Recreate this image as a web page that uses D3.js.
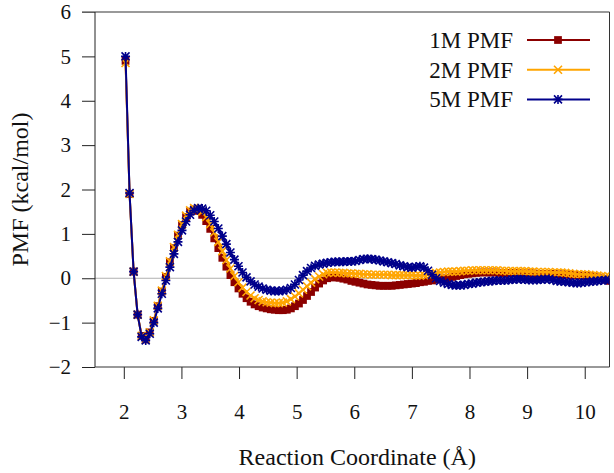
<!DOCTYPE html>
<html>
<head>
<meta charset="utf-8">
<script src="https://d3js.org/d3.v7.min.js"></script>
<style>
  body { margin: 0; background: #fff; }
  svg { display: block; }
  .axis path.domain { display: none; }
  .axis line { stroke: #222; }
</style>
</head>
<body>
<div id="chart"></div>
<script>
// reaction coordinate (Å), shared by the three runs
const coord = [
  2.03,2.10,2.17,2.24,2.31,2.38,2.45,2.52,2.59,2.66,
  2.73,2.80,2.87,2.94,3.01,3.08,3.15,3.22,3.29,3.36,
  3.43,3.50,3.57,3.64,3.71,3.78,3.85,3.92,3.99,4.06,
  4.13,4.20,4.27,4.34,4.41,4.48,4.55,4.62,4.69,4.76,
  4.83,4.90,4.97,5.04,5.11,5.18,5.25,5.32,5.39,5.46,
  5.53,5.60,5.67,5.74,5.81,5.88,5.95,6.02,6.09,6.16,
  6.23,6.30,6.37,6.44,6.51,6.58,6.65,6.72,6.79,6.86,
  6.93,7.00,7.07,7.14,7.21,7.28,7.35,7.42,7.49,7.56,
  7.63,7.70,7.77,7.84,7.91,7.98,8.05,8.12,8.19,8.26,
  8.33,8.40,8.47,8.54,8.61,8.68,8.75,8.82,8.89,8.96,
  9.03,9.10,9.17,9.24,9.31,9.38,9.45,9.52,9.59,9.66,
  9.73,9.80,9.87,9.94,10.01,10.08,10.15,10.22,10.29,10.36,
  10.43
];

// PMF (kcal/mol)
const pmf1M = [
  4.90,1.90,0.15,-0.82,-1.30,-1.38,-1.22,-0.96,-0.63,-0.30,
  0.03,0.36,0.68,0.96,1.20,1.38,1.50,1.55,1.52,1.43,
  1.29,1.11,0.90,0.68,0.46,0.26,0.07,-0.09,-0.23,-0.35,
  -0.45,-0.53,-0.59,-0.63,-0.66,-0.68,-0.70,-0.71,-0.72,-0.72,
  -0.71,-0.68,-0.63,-0.57,-0.49,-0.40,-0.31,-0.21,-0.12,-0.05,
  0.00,0.02,0.02,0.01,-0.01,-0.03,-0.06,-0.08,-0.10,-0.12,
  -0.14,-0.15,-0.16,-0.17,-0.17,-0.17,-0.17,-0.16,-0.15,-0.14,
  -0.13,-0.12,-0.11,-0.09,-0.08,-0.06,-0.05,-0.03,-0.02,0.00,
  0.01,0.03,0.05,0.07,0.09,0.10,0.11,0.12,0.13,0.13,
  0.13,0.13,0.13,0.12,0.12,0.12,0.12,0.12,0.11,0.11,
  0.11,0.11,0.10,0.10,0.10,0.10,0.10,0.09,0.09,0.09,
  0.08,0.07,0.07,0.06,0.06,0.05,0.04,0.02,0.00,-0.03,
  -0.06
];
const pmf2M = [
  4.85,1.90,0.15,-0.82,-1.30,-1.38,-1.22,-0.95,-0.62,-0.28,
  0.05,0.38,0.70,0.98,1.22,1.41,1.53,1.58,1.57,1.50,
  1.38,1.22,1.03,0.82,0.61,0.41,0.22,0.05,-0.09,-0.21,
  -0.31,-0.39,-0.45,-0.49,-0.52,-0.54,-0.55,-0.56,-0.56,-0.55,
  -0.52,-0.47,-0.41,-0.34,-0.26,-0.18,-0.10,-0.02,0.04,0.09,
  0.12,0.13,0.13,0.12,0.12,0.11,0.11,0.10,0.10,0.09,
  0.09,0.08,0.08,0.08,0.08,0.08,0.07,0.07,0.07,0.07,
  0.07,0.07,0.06,0.06,0.07,0.08,0.10,0.12,0.13,0.14,
  0.15,0.15,0.15,0.16,0.17,0.17,0.18,0.18,0.18,0.18,
  0.18,0.18,0.18,0.17,0.17,0.16,0.16,0.16,0.16,0.16,
  0.15,0.15,0.14,0.14,0.14,0.14,0.13,0.13,0.13,0.12,
  0.11,0.10,0.09,0.09,0.09,0.08,0.07,0.06,0.05,0.04,
  0.03
];
const pmf5M = [
  5.00,1.92,0.15,-0.82,-1.32,-1.40,-1.25,-1.00,-0.68,-0.35,
  -0.05,0.25,0.55,0.82,1.08,1.28,1.43,1.53,1.58,1.57,
  1.52,1.42,1.28,1.12,0.95,0.77,0.58,0.42,0.27,0.13,
  0.02,-0.07,-0.14,-0.19,-0.23,-0.26,-0.28,-0.29,-0.29,-0.28,
  -0.26,-0.22,-0.14,-0.04,0.07,0.16,0.23,0.28,0.31,0.33,
  0.35,0.36,0.37,0.37,0.37,0.38,0.38,0.39,0.41,0.43,
  0.44,0.43,0.42,0.40,0.38,0.36,0.34,0.32,0.29,0.27,
  0.25,0.24,0.26,0.27,0.24,0.17,0.08,0.00,-0.06,-0.10,
  -0.13,-0.15,-0.16,-0.16,-0.15,-0.13,-0.12,-0.10,-0.09,-0.08,
  -0.07,-0.06,-0.05,-0.05,-0.05,-0.04,-0.03,-0.02,-0.02,-0.03,
  -0.04,-0.04,-0.04,-0.03,-0.02,-0.02,-0.04,-0.06,-0.07,-0.08,
  -0.09,-0.10,-0.11,-0.10,-0.09,-0.08,-0.07,-0.06,-0.05,-0.04,
  -0.04
];

const seriesNames = ['1M PMF', '2M PMF', '5M PMF'];
const xTicks = [2, 3, 4, 5, 6, 7, 8, 9, 10];
const yTicks = [-2, -1, 0, 1, 2, 3, 4, 5, 6];

const FONT = '"Liberation Serif", "Times New Roman", Times, serif';
const W = 614, H = 473;
const pLeft = 95, pRight = 609.5, pTop = 12, pBottom = 367;

const svg = d3.select('#chart').append('svg')
  .attr('width', W).attr('height', H)
  .attr('font-family', FONT);

const x = d3.scaleLinear().domain([1.5, 10.43]).range([pLeft, pRight]);
const y = d3.scaleLinear().domain([-2, 6]).range([pBottom, pTop]);

// axes (outward ticks, gnuplot style)
const yAxisG = svg.append('g').attr('class', 'axis')
  .attr('transform', `translate(${pLeft},0)`)
  .call(d3.axisLeft(y).tickValues(yTicks).tickSize(13).tickPadding(11).tickFormat(d3.format('d')));

const xAxisG = svg.append('g').attr('class', 'axis')
  .attr('transform', `translate(0,${pBottom})`)
  .call(d3.axisBottom(x).tickValues(xTicks).tickSize(12).tickPadding(25).tickFormat(d3.format('d')));

[yAxisG, xAxisG].forEach(a => a
  .attr('font-family', FONT).attr('font-size', 21)
  .selectAll('text').attr('fill', '#111').attr('font-family', FONT));

// zero line
svg.append('line')
  .attr('x1', pLeft).attr('x2', pRight).attr('y1', y(0)).attr('y2', y(0))
  .attr('stroke', '#b0b0b0').attr('stroke-width', 1);

// border
svg.append('line').attr('x1', pLeft - 13).attr('x2', pRight).attr('y1', pTop).attr('y2', pTop)
  .attr('stroke', '#777').attr('stroke-width', 1.5);
svg.append('line').attr('x1', pLeft).attr('x2', pLeft).attr('y1', pTop).attr('y2', pBottom)
  .attr('stroke', '#222');
svg.append('line').attr('x1', pLeft).attr('x2', pRight).attr('y1', pBottom).attr('y2', pBottom)
  .attr('stroke', '#333');
svg.append('line').attr('x1', pRight).attr('x2', pRight).attr('y1', pTop).attr('y2', pBottom)
  .attr('stroke', '#333');

svg.append('defs').append('clipPath').attr('id', 'plot-clip')
  .append('rect').attr('x', pLeft).attr('y', pTop - 6).attr('width', pRight - pLeft).attr('height', pBottom - pTop + 6);

const marks = {
  square: d3.symbol(d3.symbolSquare, 60)(),
  cross: 'M-4,-4L4,4M-4,4L4,-4',
  star: 'M-4,-4L4,4M-4,4L4,-4M0,-4.5L0,4.5M-4.5,0L4.5,0'
};

const series = [
  { name: seriesNames[0], values: pmf1M, color: '#8b0000', mark: 'square' },
  { name: seriesNames[1], values: pmf2M, color: '#ffa500', mark: 'cross' },
  { name: seriesNames[2], values: pmf5M, color: '#00008b', mark: 'star' }
];

const line = d3.line().x(d => x(d[0])).y(d => y(d[1]));

const plot = svg.append('g').attr('clip-path', 'url(#plot-clip)');

function drawMark(sel, s) {
  sel.attr('d', marks[s.mark])
    .attr('fill', s.mark === 'square' ? s.color : 'none')
    .attr('stroke', s.color)
    .attr('stroke-width', s.mark === 'square' ? 0 : 1.6);
}

series.forEach(s => {
  const pts = coord.map((c, i) => [c, s.values[i]]);
  const g = plot.append('g');
  g.append('path').datum(pts)
    .attr('d', line)
    .attr('fill', 'none').attr('stroke', s.color).attr('stroke-width', 2);
  g.selectAll('path.pt').data(pts).join('path')
    .attr('class', 'pt')
    .attr('transform', d => `translate(${x(d[0])},${y(d[1])})`)
    .call(drawMark, s);
});

// legend
const legend = svg.append('g');
series.forEach((s, i) => {
  const cy = 40 + i * 29.7;
  legend.append('text')
    .attr('x', 513).attr('y', cy + 8)
    .attr('text-anchor', 'end')
    .attr('font-family', FONT).attr('font-size', 23).attr('fill', '#111')
    .text(s.name);
  legend.append('line')
    .attr('x1', 527).attr('x2', 590).attr('y1', cy).attr('y2', cy)
    .attr('stroke', s.color).attr('stroke-width', 2);
  legend.append('path')
    .attr('transform', `translate(558,${cy})`)
    .call(drawMark, s);
});

// axis titles
svg.append('text')
  .attr('x', (pLeft + pRight) / 2 + 5).attr('y', 465)
  .attr('text-anchor', 'middle')
  .attr('font-family', FONT).attr('font-size', 24).attr('fill', '#111')
  .text('Reaction Coordinate (Å)');

svg.append('text')
  .attr('transform', `translate(28,${(pTop + pBottom) / 2}) rotate(-90)`)
  .attr('text-anchor', 'middle')
  .attr('font-family', FONT).attr('font-size', 24).attr('fill', '#111')
  .text('PMF (kcal/mol)');
</script>
</body>
</html>
